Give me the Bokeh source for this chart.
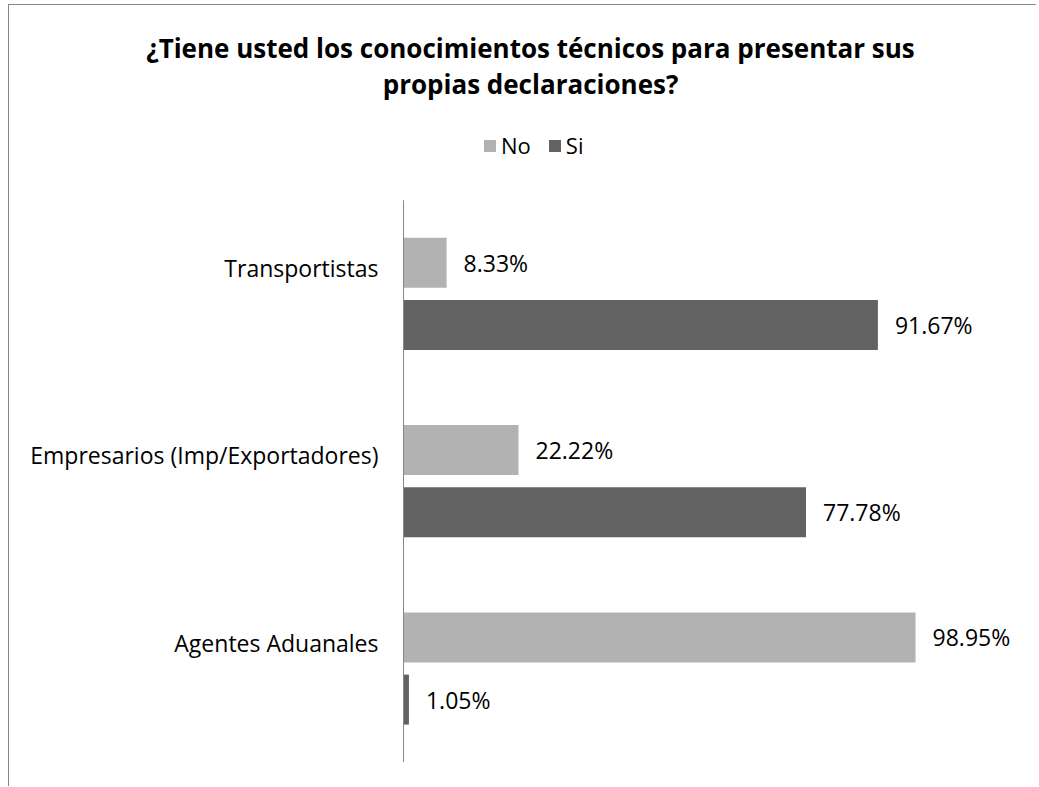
from bokeh.plotting import figure
from bokeh.models import ColumnDataSource, Legend, LegendItem, Range1d
from bokeh.core.properties import value
from bokeh.embed import file_html
from bokeh.resources import INLINE

# ---- data ----
title_lines = ["¿Tiene usted los conocimientos técnicos para presentar sus",
               "propias declaraciones?"]
categories = ["Transportistas", "Empresarios (Imp/Exportadores)", "Agentes Aduanales"]
no_values = [8.33, 22.22, 98.95]
si_values = [91.67, 77.78, 1.05]
series_names = ["No", "Si"]

FONT = "Open Sans"
C_NO = "#B2B2B2"
C_SI = "#626262"
AXIS_C = "#878787"

# ---- layout (pixels) ----
W, H = 1028, 782
ORIGIN_X, ORIGIN_Y = 9, 5          # page position of canvas top-left
PX_PER_PCT = 5.175
PX_PER_CAT = 187.3
ZERO_PAGE_X = 403                  # page x of value axis (0 %)
CAT0_PAGE_Y = 668                  # page y of bottom category centre
n = len(categories)

x_start = -(ZERO_PAGE_X - ORIGIN_X) / PX_PER_PCT
y_start = -(ORIGIN_Y + H - CAT0_PAGE_Y) / PX_PER_CAT

def px_x(page_x):
    return x_start + (page_x - ORIGIN_X) / PX_PER_PCT

def px_y(page_y):
    return y_start + (ORIGIN_Y + H - page_y) / PX_PER_CAT

ypos = [n - 1 - i for i in range(n)]   # first category on top
off = 0.166
bh = 0.267

src = ColumnDataSource(dict(
    cat=categories,
    y_no=[y + off for y in ypos],
    y_si=[y - off for y in ypos],
    y=ypos,
    no=no_values,
    si=si_values,
    no_lbl=[f"{v:.2f}%" for v in no_values],
    si_lbl=[f"{v:.2f}%" for v in si_values],
))

p = figure(width=W, height=H, output_backend="svg", toolbar_location=None,
           x_range=Range1d(x_start, x_start + W / PX_PER_PCT),
           y_range=Range1d(y_start, y_start + H / PX_PER_CAT),
           min_border=0)
p.styles = {"margin-left": "8px", "margin-top": "4px",
            "border-top": "1px solid #878787", "border-left": "1px solid #878787"}
p.axis.visible = False
p.grid.visible = False
p.outline_line_color = None

r_no = p.hbar(y="y_no", right="no", left=0, height=bh, source=src,
              fill_color=C_NO, line_color=None)
r_si = p.hbar(y="y_si", right="si", left=0, height=bh, source=src,
              fill_color=C_SI, line_color=None)

# category axis line
p.segment(x0=0, y0=-0.5, x1=0, y1=n - 0.5, line_color=AXIS_C, line_width=1)

txt = dict(text_font=value(FONT), text_font_size="23px", text_color="#000000",
           text_baseline="middle")
p.text(x="no", y="y_no", text="no_lbl", x_offset=17, source=src, **txt)
p.text(x="si", y="y_si", text="si_lbl", x_offset=17, source=src, **txt)

# category labels
p.text(x=0, y="y", text="cat", x_offset=-25, y_offset=-26, text_align="right",
       source=src, **txt)

# title
p.text(x=[px_x(530)] * 2, y=[px_y(47), px_y(83)], text=title_lines,
       text_align="center", text_baseline="alphabetic",
       text_font=value(FONT), text_font_size="26px", text_font_style="bold",
       text_color="#000000")

# legend
legend = Legend(items=[LegendItem(label=series_names[0], renderers=[r_no]),
                       LegendItem(label=series_names[1], renderers=[r_si])],
                orientation="horizontal",
                location=(482 - ORIGIN_X, ORIGIN_Y + H - 160),
                glyph_width=15, glyph_height=15, label_standoff=4, spacing=16,
                padding=0, margin=0, border_line_color=None,
                background_fill_alpha=0,
                label_text_font=FONT, label_text_font_size="22px",
                label_text_color="#000000")
p.add_layout(legend)

open("out.html", "w").write(file_html(p, INLINE))
